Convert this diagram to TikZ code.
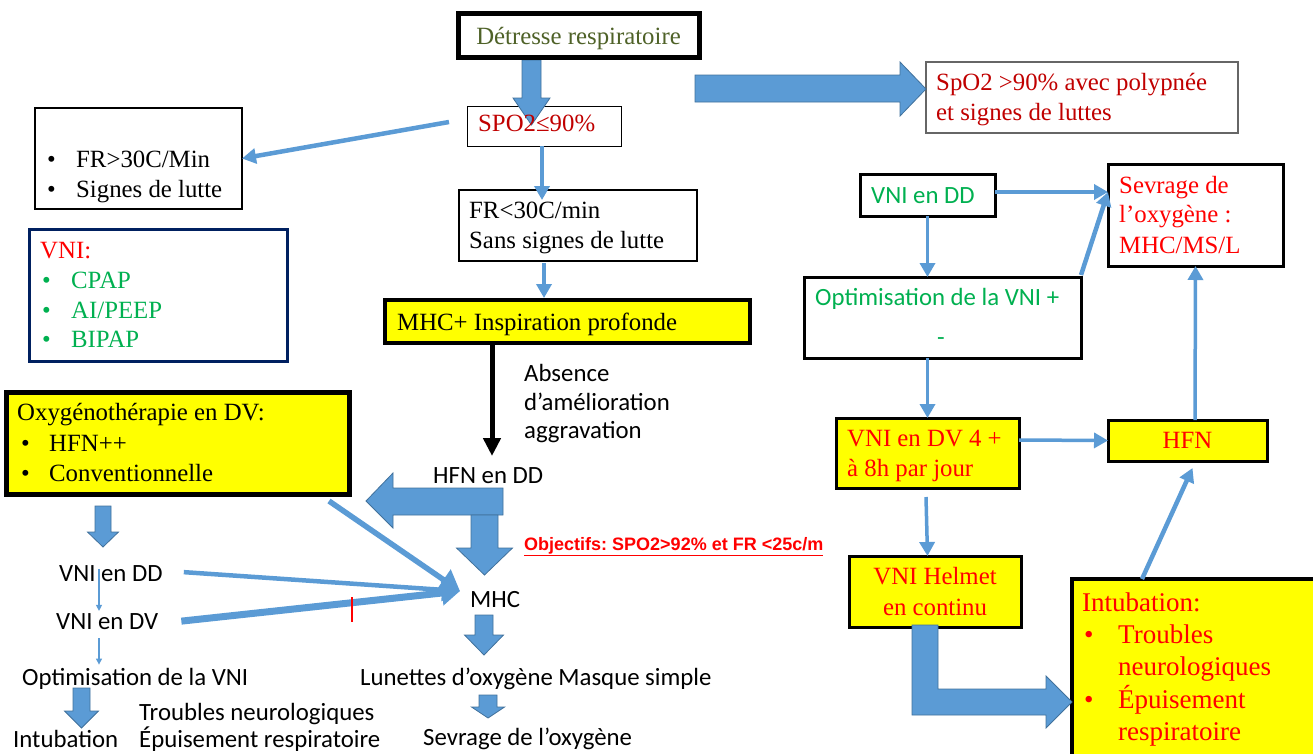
\documentclass[tikz,border=0pt]{standalone}
\usepackage{fontspec}
\setmainfont{Liberation Serif}
\newfontfamily\calib{Carlito}
\newfontfamily\arialf{Liberation Sans}
\usetikzlibrary{arrows.meta,calc}
\definecolor{ablue}{HTML}{5B9BD5}
\definecolor{aedge}{HTML}{41719C}
\definecolor{dgreen}{HTML}{4F6228}
\definecolor{vgreen}{HTML}{00B050}
\definecolor{navy}{HTML}{002060}
\definecolor{dred}{HTML}{C00000}
\definecolor{yel}{HTML}{FFFF00}
\newcommand\darrow[6]{\filldraw[barrow] (#1-#4,#2) -- (#1+#4,#2) -- (#1+#4,#3-#6) -- (#1+#5,#3-#6) -- (#1,#3) -- (#1-#5,#3-#6) -- (#1-#4,#3-#6) -- cycle;}
\newcommand\bul[1]{\makebox[#1][l]{\textbullet}}
\begin{document}
\frenchspacing
\begin{tikzpicture}[x=1pt,y=-1pt,
 box/.style={draw=black, rectangle, anchor=north west, inner sep=0pt, outer sep=0pt},
 t/.style={inner sep=0pt, anchor=base west, font=\fontsize{24.8}{29}\selectfont},
 tc/.style={t, anchor=base},
 ts/.style={t, font=\calib\fontsize{24.8}{29}\selectfont},
 ti/.style={t, font=\fontsize{27}{32}\selectfont, red},
 larrow/.style={draw=ablue, line width=4.5pt, -{Triangle[length=14pt,width=15pt]}},
 thinarrow/.style={draw=ablue, line width=1.2pt, -{Triangle[length=6pt,width=6pt]}},
 barrow/.style={fill=ablue, draw=aedge, line width=0.8pt, line join=miter},
]
\useasboundingbox (0,0) rectangle (1313,753);

% ---------- boxes ----------
\node[box, line width=1pt, minimum width=154pt, minimum height=40pt] (spo2) at (467,106) {};
\node[box, line width=2.5pt, minimum width=207pt, minimum height=101pt] (fr30) at (35,108) {};
\node[box, draw=navy, line width=3pt, minimum width=258pt, minimum height=132pt] (vnibox) at (29,229) {};
\node[box, line width=2.5pt, minimum width=238pt, minimum height=71pt] (fr30min) at (459,190) {};
\node[box, fill=yel, line width=4pt, minimum width=365pt, minimum height=43pt] (mhcp) at (385,300) {};
\node[box, draw=black!60, line width=1.2pt, minimum width=312pt, minimum height=71pt] (spo90) at (926,62) {};
\node[box, line width=3pt, minimum width=135pt, minimum height=42pt] (vnidd) at (860,174) {};
\node[box, line width=3pt, minimum width=175pt, minimum height=102pt] (sevrage) at (1108,164) {};
\node[box, line width=3pt, minimum width=277pt, minimum height=81pt] (optim) at (804,277) {};
\node[box, fill=yel, line width=3pt, minimum width=183pt, minimum height=70pt] (vnidv4) at (836,418) {};
\node[box, fill=yel, line width=3pt, minimum width=159pt, minimum height=41pt] (hfn) at (1108,420) {};
\node[box, fill=yel, line width=3pt, minimum width=172pt, minimum height=71pt] (helmet) at (849,556) {};
\node[box, fill=yel, line width=4pt, minimum width=260pt, minimum height=200pt] (intub) at (1072,579) {};
\node[box, fill=yel, line width=5pt, minimum width=343pt, minimum height=102pt] (oxy) at (6,392) {};

% ---------- block arrows ----------
\darrow{531.5}{60}{125}{9.5}{18.5}{27}
\node[box, fill=white, line width=5pt, minimum width=241pt, minimum height=44pt] (det) at (458,13) {};
\filldraw[barrow] (695,75) -- (900,75) -- (900,62) -- (926,89) -- (900,116) -- (900,102) -- (695,102) -- cycle;
\darrow{103}{506}{547}{8}{15.5}{15}
\darrow{81.5}{688}{728}{8.5}{17}{17}
\darrow{484}{615}{655}{9}{19.5}{20}
\darrow{488}{695}{718}{9}{16.5}{11}
\filldraw[barrow] (503,488) -- (393,488) -- (393,473) -- (366,501) -- (393,528) -- (393,515) -- (503,515) -- cycle;
\darrow{484.5}{515}{575}{13.5}{28}{27}
\filldraw[barrow] (912,625) -- (938,625) -- (938,689) -- (1046,689) -- (1046,676) -- (1072,702) -- (1046,728) -- (1046,715) -- (912,715) -- cycle;

% ---------- texts ----------
\node[tc, dgreen] (tdet) at (det.center |- 0,44) {Détresse respiratoire};
\node[t, dred] (tspo2) at (478,131) {SPO2≤90\%};
\node[t] (tfa) at (47,167) {\bul{29pt}FR>30C/Min};
\node[t] (tfb) at (47,197) {\bul{29pt}Signes de lutte};
\node[t, red] (tvni) at (40,258) {VNI:};
\node[t, vgreen] (tcpap) at (42,288) {\bul{29pt}CPAP};
\node[t, vgreen] (taipeep) at (42,318) {\bul{29pt}AI/PEEP};
\node[t, vgreen] (tbipap) at (42,347) {\bul{29pt}BIPAP};
\node[t] (tfr1) at (469,218) {FR<30C/min};
\node[t] (tfr2) at (469,248) {Sans signes de lutte};
\node[t] (tmhcp) at (397,330) {MHC+ Inspiration profonde};
\node[ts] (tabs1) at (524,381) {Absence};
\node[ts] (tabs2) at (524,410) {d’amélioration};
\node[ts] (tabs3) at (524,438) {aggravation};
\node[t, dred] (ts90a) at (936,90) {SpO2 >90\% avec polypnée};
\node[t, dred] (ts90b) at (936,120) {et signes de luttes};
\node[ts, vgreen] (tvnidd) at (871,203) {VNI en DD};
\node[t, red] (tsev1) at (1119,193) {Sevrage de};
\node[t, red] (tsev2) at (1119,222) {l’oxygène :};
\node[t, red] (tsev3) at (1119,253) {MHC/MS/L};
\node[ts, vgreen] (topt1) at (815,305) {Optimisation de la VNI +};
\node[ts, vgreen, anchor=base] (topt2) at (941,345) {-};
\node[t, red] (tdv41) at (847,446) {VNI en DV 4 +};
\node[t, red] (tdv42) at (847,476) {à 8h par jour};
\node[tc, red] (thfn) at (hfn.center |- 0,448) {HFN};
\node[tc, red] (thel1) at (935,584) {VNI Helmet};
\node[tc, red] (thel2) at (935,615) {en continu};
\node[ti] (tin0) at (1082,611) {Intubation:};
\node[ti] (tin1) at (1084,643) {\bul{34pt}Troubles};
\node[ti] (tin2) at (1118,675) {neurologiques};
\node[ti] (tin3) at (1084,708) {\bul{34pt}Épuisement};
\node[ti] (tin4) at (1118,740) {respiratoire};
\node[t] (tox0) at (17,420) {Oxygénothérapie en DV:};
\node[t] (tox1) at (21,451) {\bul{28pt}HFN++};
\node[t] (tox2) at (21,481) {\bul{28pt}Conventionnelle};
\node[ts] (hfndd) at (433,483) {HFN en DD};
\node[t, red, font=\arialf\bfseries\fontsize{18}{22}\selectfont] (tobj) at (524,550) {\underline{Objectifs: SPO2>92\% et FR <25c/m}};
\node[ts] (tdd) at (59,581) {VNI en DD};
\node[ts] (tdv) at (56,629) {VNI en DV};
\node[ts] (toptim) at (22,685) {Optimisation de la VNI};
\node[ts] (tintu) at (13,747) {Intubation};
\node[ts] (ttroub) at (139,720) {Troubles neurologiques};
\node[ts] (tepuis) at (139,747) {Épuisement respiratoire};
\node[ts] (mhc) at (470,607) {MHC};
\node[ts] (tlun) at (360,685) {Lunettes d’oxygène Masque simple};
\node[ts] (tsevl) at (423,745) {Sevrage de l’oxygène};

% ---------- line connectors ----------
\coordinate (mhcin) at ($(mhc.west)+(-10,-8)$);
\coordinate (sevin) at ($(sevrage.north west)+(0,28)$);
\draw[larrow] ($(spo2.west)+(-18,-4)$) -- (fr30.east);
\draw[larrow, line width=3.5pt] ($(spo2.south)+(-2,0)$) -- ($(spo2.south |- fr30min.north)+(-2,10)$);
\draw[larrow, line width=3.5pt] ($(fr30min.south -| spo2.south)+(0,2)$) -- ($(mhcp.north -| spo2.south)+(0,-2)$);
\draw[draw=black, line width=5pt, -{Triangle[length=18pt,width=17pt]}] ($(mhcp.south)+(-75.5,0)$) -- ++(0,113);
\draw[larrow] ($(vnidd.east)+(0,-3)$) -- (sevin);
\draw[larrow] ($(optim.north east)+(0,-2)$) -- (sevin);
\draw[larrow, line width=3.5pt] (vnidd.south) -- (vnidd.south |- optim.north);
\draw[larrow, line width=3.5pt] (vnidd.south |- optim.south) -- (vnidd.south |- vnidv4.north);
\draw[larrow, line width=3.5pt] ($(vnidv4.east)+(0,-13)$) -- (hfn.west);
\draw[larrow, line width=3.5pt] ($(vnidv4.south)+(-1.5,9)$) -- (vnidv4.south |- helmet.north);
\draw[larrow, line width=3.5pt] ($(hfn.north)+(7.5,0)$) -- ($(sevrage.south)+(0,0)$);
\draw[larrow] ($(intub.north west)+(70,0)$) -- ($(hfn.south)+(5,7)$);
\draw[thinarrow] ($(tdd.west)+(40,-4)$) -- ($(tdv.north west)+(43,-2)$);
\draw[thinarrow] ($(tdv.south west)+(43,9)$) -- ($(toptim.north west)+(77,-3)$);
\draw[larrow, line width=4.5pt, -{Triangle[length=18pt,width=22pt]}] ($(tdd.east)+(21,-1)$) -- (mhcin);
\draw[larrow, line width=7pt, -{Triangle[length=18pt,width=24pt]}] ($(tdv.east)+(23,0)$) -- (mhcin);
\draw[larrow, line width=5.5pt, -{Triangle[length=20pt,width=24pt]}] ($(oxy.south east)+(-20,7)$) -- (mhcin);
\draw[red, line width=1.8pt] (352,597) -- (352,622);
\end{tikzpicture}
\end{document}
